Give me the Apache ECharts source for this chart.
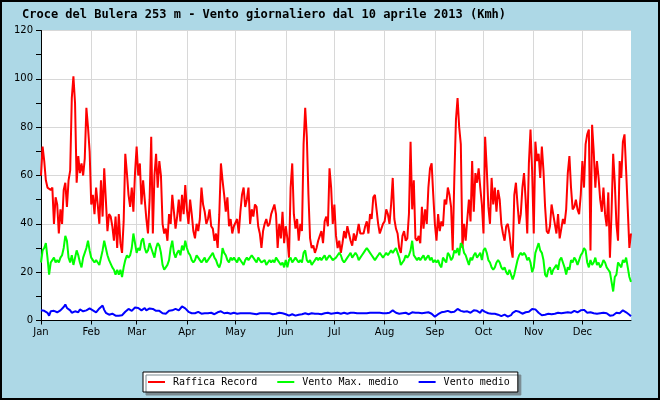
<!DOCTYPE html>
<html><head><meta charset="utf-8">
<script src="https://cdn.jsdelivr.net/npm/echarts@6/dist/echarts.min.js"></script>
<style>html,body{margin:0;padding:0;background:#add8e6}#c{width:660px;height:400px}</style>
</head><body><div id="c"></div><script>
const monthNames = ['Jan','Feb','Mar','Apr','May','Jun','Jul','Aug','Sep','Oct','Nov','Dec'];
const monthDays = [31,28,31,30,31,30,31,31,30,31,30,31];
const yTicks = [0,20,40,60,80,100,120];

const raffica = [
60,72,66,58,55,55,54,55,40,51,48,36,46,40,54,57,47,58,62,92,101,90,57,68,61,65,60,67,88,80,70,
48,52,44,55,48,40,58,43,63,50,37,44,43,39,33,43,30,44,32,28,41,69,61,52,47,55,45,61,
72,60,65,48,58,50,42,36,50,76,36,60,69,55,66,60,40,36,38,33,44,40,52,45,38,43,50,41,52,44,56,
46,40,50,44,37,34,40,37,42,55,48,45,40,42,46,39,38,33,36,30,44,65,58,52,45,51,39,42,36,39,
39,42,36,45,52,55,47,50,55,40,46,43,48,47,39,36,30,37,40,42,39,40,44,46,48,44,30,40,34,45,32,
39,34,26,55,65,44,38,42,33,40,37,73,88,76,52,34,30,31,28,30,33,35,37,32,41,43,39,63,55,40,
48,35,30,33,28,32,37,34,39,36,33,31,36,33,36,40,36,36,36,39,41,36,44,42,51,52,46,40,36,38,40,
41,46,44,40,48,59,42,38,36,30,28,35,37,33,34,44,74,46,58,34,33,35,32,47,38,46,40,55,63,65,52,
40,33,44,37,41,39,50,48,55,52,47,29,59,83,92,80,73,30,40,33,42,50,41,66,45,61,57,63,55,48,
36,76,63,47,40,59,48,55,45,54,50,40,36,33,39,40,36,30,26,52,57,48,40,44,55,61,50,36,65,79,62,
36,74,66,69,59,72,62,47,37,36,39,48,44,40,36,44,34,38,42,40,46,61,68,55,46,47,50,46,44,52,
66,55,73,77,79,29,81,70,55,66,59,50,45,55,44,39,53,26,45,69,57,40,33,66,59,74,77,62,46,30,36
];
const ventoMax = [
24,29,30,32,26,19,24,25,26,24,25,24,26,27,30,35,33,26,24,27,23,26,29,27,24,22,26,28,30,33,29,
26,25,24,25,24,23,26,29,33,30,27,25,25,22,21,19,21,19,21,18,22,25,27,26,27,30,36,32,
28,30,29,33,34,30,28,29,32,30,28,26,30,32,31,28,23,21,22,23,25,30,33,28,26,28,29,27,31,29,33,
30,28,27,25,24,25,27,26,25,24,25,26,24,25,26,27,28,26,25,23,22,24,30,28,27,25,24,26,25,26,
25,24,26,25,24,23,25,26,25,25,27,26,25,24,26,25,24,24,25,23,24,25,24,25,24,26,25,24,23,24,22,
25,22,25,26,24,25,26,25,24,25,24,28,29,25,24,25,23,24,25,26,25,26,25,26,27,25,26,27,26,25,
25,26,27,28,27,25,24,25,26,27,28,26,27,28,27,25,26,27,28,29,30,29,28,27,26,25,26,27,28,27,26,
27,28,27,28,29,28,29,30,28,26,23,24,25,27,26,27,29,33,27,26,25,26,25,26,27,25,26,27,25,26,24,
25,24,25,23,22,26,25,24,28,27,25,26,29,28,30,27,32,31,28,27,25,23,26,25,27,28,26,27,28,25,
29,30,28,25,24,22,21,22,24,25,24,22,21,22,20,19,21,19,17,19,22,25,27,28,27,28,27,25,26,24,20,
22,28,30,32,29,28,25,19,18,21,22,19,21,22,23,21,25,26,24,22,19,22,21,25,24,26,25,23,25,27,
28,30,29,24,22,25,23,24,26,23,24,22,23,25,24,22,21,20,16,12,18,19,24,23,22,25,24,26,22,18,16
];
const ventoMedio = [
4.2,4.8,4.0,4.5,3.2,2.0,3.8,4.6,4.0,4.3,3.4,3.8,4.2,4.8,5.6,6.6,5.2,4.8,4.2,3.2,3.0,3.8,4.2,3.4,4.6,4.0,3.8,3.2,4.2,4.8,5.0,
4.8,4.2,3.8,3.4,4.2,5.0,5.4,6.2,4.4,3.2,3.0,2.4,3.0,2.8,2.2,2.0,1.4,2.0,2.6,2.2,3.0,3.6,4.2,4.8,4.2,4.0,4.8,5.4,
4.8,5.2,4.6,4.2,4.8,5.2,4.2,4.6,5.0,5.6,4.8,4.2,4.0,4.6,4.0,4.4,3.0,3.0,2.8,3.6,4.0,3.6,4.2,4.0,4.8,4.6,4.2,5.0,5.8,6.2,5.0,
4.2,3.6,3.2,3.0,3.4,3.0,3.2,3.6,3.0,2.8,3.2,3.0,2.6,3.0,2.8,3.2,3.0,2.6,3.0,3.4,3.2,3.8,3.2,3.0,2.8,3.2,3.0,2.8,3.0,3.2,
3.0,2.8,3.2,3.0,2.8,3.0,3.4,3.0,2.8,3.0,3.2,2.8,3.0,2.6,2.8,3.0,3.2,3.0,2.8,3.0,3.2,3.0,2.8,2.6,3.0,2.8,3.0,3.2,2.8,3.0,2.8,
2.6,2.2,2.0,2.4,2.6,2.2,2.0,1.8,2.4,2.2,2.6,2.8,3.0,2.8,2.6,2.8,3.0,2.6,2.8,3.0,2.8,3.0,2.6,2.8,3.0,2.8,3.2,3.0,2.8,3.0,
3.0,2.8,3.2,3.0,2.8,3.0,3.2,3.0,2.8,3.0,3.2,3.0,3.2,3.0,3.0,3.2,3.0,2.8,3.0,3.2,3.0,3.4,3.2,3.0,3.2,3.4,3.2,3.0,3.2,3.4,3.0,
3.2,3.0,3.4,3.2,4.0,4.2,3.6,3.2,3.0,2.8,2.6,3.0,2.8,3.2,3.0,2.6,3.2,3.4,3.0,3.2,3.0,3.2,2.8,3.0,2.6,3.2,3.0,3.4,3.0,2.8,2.6,
1.6,2.0,2.6,3.0,3.4,3.0,3.6,4.2,4.0,4.4,3.4,3.2,3.6,4.4,4.8,4.4,4.0,3.4,3.6,4.2,3.8,3.4,3.2,3.8,4.2,4.6,4.0,3.6,3.2,4.4,
4.2,3.6,3.2,3.0,3.0,2.8,2.6,2.8,2.6,2.4,2.0,1.8,2.0,2.4,2.0,1.6,1.4,2.2,3.2,3.6,4.0,4.4,3.6,3.2,2.8,3.0,3.4,3.2,3.6,4.2,4.8,
4.4,4.6,4.0,3.2,2.6,2.2,2.0,2.4,2.6,2.8,3.0,2.6,3.2,2.8,3.0,3.2,3.6,3.0,2.8,3.2,3.6,3.4,3.0,3.2,3.6,4.0,3.6,3.4,3.8,4.2,
4.8,4.4,3.8,3.2,3.0,3.4,2.8,3.0,3.4,2.8,2.6,3.0,2.8,3.2,3.6,3.0,2.4,2.0,2.6,2.2,2.8,3.2,3.4,3.0,3.6,4.2,3.8,3.4,3.2,2.4,1.8
];

const categories = [];
const monthStart = new Set();
monthDays.forEach((n, m) => {
  for (let d = 0; d < n; d++) {
    if (d === 0) monthStart.add(categories.length);
    categories.push(monthNames[m] + ' ' + (d + 1));
  }
});
const isMonthStart = (i) => monthStart.has(i);

const chart = echarts.init(document.getElementById('c'), null, {renderer: 'canvas'});
const labelFont = {fontFamily: 'DejaVu Sans', fontSize: 10, color: '#000'};
chart.setOption({
  animation: false,
  backgroundColor: '#add8e6',
  title: {
    text: 'Croce del Bulera 253 m - Vento giornaliero dal 10 aprile 2013 (Kmh)',
    left: 22, top: 9, padding: 0,
    textStyle: {fontFamily: 'DejaVu Sans Mono', fontSize: 12, fontWeight: 'bold', color: '#000'}
  },
  grid: {left: 41, right: 29, top: 30.5, bottom: 79.5, show: true, backgroundColor: '#fff', borderWidth: 0},
  legend: {
    left: 143, top: 372,
    padding: [4, 8, 4, 5],
    itemGap: 20, itemWidth: 17, itemHeight: 2, icon: 'rect',
    backgroundColor: '#fff', borderColor: '#000', borderWidth: 1, borderRadius: 0,
    shadowColor: '#7a8a90', shadowOffsetX: 3, shadowOffsetY: 3, shadowBlur: 0,
    textStyle: {fontFamily: 'DejaVu Sans Mono', fontSize: 10, color: '#000', padding: [0, 0, 0, 3], lineHeight: 12},
    data: ['Raffica Record', 'Vento Max. medio', 'Vento medio']
  },
  xAxis: {
    type: 'category', data: categories, boundaryGap: false,
    axisLine: {lineStyle: {color: '#000', width: 1}},
    axisTick: {show: true, interval: (i) => isMonthStart(i), length: 4, lineStyle: {color: '#000'}},
    axisLabel: {interval: (i) => isMonthStart(i), formatter: (v) => v.split(' ')[0], margin: 7, ...labelFont},
    splitLine: {show: true, interval: (i) => isMonthStart(i) && i > 0, lineStyle: {color: '#d8d8d8', width: 1}}
  },
  yAxis: {
    type: 'value', min: yTicks[0], max: yTicks[yTicks.length - 1], interval: 20,
    axisLine: {show: true, lineStyle: {color: '#000', width: 1}},
    axisTick: {show: true, length: 5, lineStyle: {color: '#000'}},
    minorTick: {show: true, splitNumber: 2, length: 5, lineStyle: {color: '#000'}},
    axisLabel: {margin: 8, ...labelFont},
    splitLine: {show: true, lineStyle: {color: '#d8d8d8', width: 1}}
  },
  series: [
    {name: 'Raffica Record', type: 'line', data: raffica, showSymbol: false, color: '#ff0000', lineStyle: {width: 2, color: '#ff0000'}},
    {name: 'Vento Max. medio', type: 'line', data: ventoMax, showSymbol: false, color: '#00ff00', lineStyle: {width: 2, color: '#00ff00'}},
    {name: 'Vento medio', type: 'line', data: ventoMedio, showSymbol: false, color: '#0000ff', lineStyle: {width: 2, color: '#0000ff'}}
  ],
  graphic: [{type: 'rect', silent: true, z: 100, shape: {x: 1, y: 1, width: 658, height: 398}, style: {fill: null, stroke: '#000', lineWidth: 2}}]
});
</script></body></html>
